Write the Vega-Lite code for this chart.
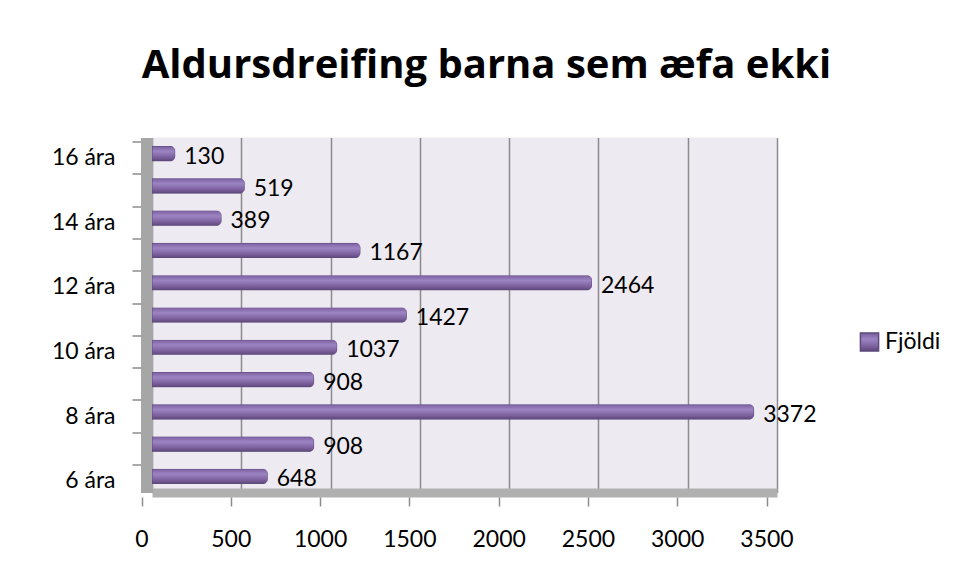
{
  "$schema": "https://vega.github.io/schema/vega-lite/v6.json",
  "autosize": {"type": "none"},
  "width": 625,
  "height": 355,
  "padding": {"left": 152, "top": 137.5, "right": 182, "bottom": 88.5},
  "background": "white",
  "config": {
    "font": "Lato",
    "view": {"fill": "#EDEAF2", "stroke": null}
  },
  "title": {
    "text": "Aldursdreifing barna sem æfa ekki",
    "font": "Open Sans",
    "fontWeight": "bold",
    "fontSize": 40,
    "color": "#000000",
    "anchor": "middle",
    "dx": 22,
    "offset": 52
  },
  "data": {
    "values": [
      {"age": "6 ára", "v": 648, "s": "Fjöldi"},
      {"age": "7 ára", "v": 908, "s": "Fjöldi"},
      {"age": "8 ára", "v": 3372, "s": "Fjöldi"},
      {"age": "9 ára", "v": 908, "s": "Fjöldi"},
      {"age": "10 ára", "v": 1037, "s": "Fjöldi"},
      {"age": "11 ára", "v": 1427, "s": "Fjöldi"},
      {"age": "12 ára", "v": 2464, "s": "Fjöldi"},
      {"age": "13 ára", "v": 1167, "s": "Fjöldi"},
      {"age": "14 ára", "v": 389, "s": "Fjöldi"},
      {"age": "15 ára", "v": 519, "s": "Fjöldi"},
      {"age": "16 ára", "v": 130, "s": "Fjöldi"}
    ]
  },
  "encoding": {
    "y": {
      "field": "age",
      "type": "nominal",
      "sort": ["16 ára", "15 ára", "14 ára", "13 ára", "12 ára", "11 ára", "10 ára", "9 ára", "8 ára", "7 ára", "6 ára"],
      "scale": {"paddingInner": 0, "paddingOuter": 0},
      "axis": {
        "title": null,
        "bandPosition": 0,
        "tickOffset": 4.2,
        "labelDy": 16.5,
        "labelExpr": "indexof(['6 ára','8 ára','10 ára','12 ára','14 ára','16 ára'], datum.value) >= 0 ? datum.label : ''",
        "labelFontSize": 23,
        "labelColor": "#000000",
        "labelPadding": 17,
        "tickSize": 14.5,
        "tickColor": "#8C8C8C",
        "tickWidth": 1.5,
        "domainColor": "#A6A6A6",
        "domainWidth": 12,
        "offset": 5.5,
        "grid": false
      }
    }
  },
  "layer": [
    {
      "mark": {
        "type": "bar",
        "height": {"band": 0.47},
        "cornerRadiusEnd": 5,
        "strokeWidth": 1,
        "color": {
          "gradient": "linear",
          "x1": 0, "y1": 0, "x2": 0, "y2": 1,
          "stops": [
            {"offset": 0, "color": "#7A5E9E"},
            {"offset": 0.35, "color": "#9C84C2"},
            {"offset": 0.7, "color": "#8064A2"},
            {"offset": 1, "color": "#5C4778"}
          ]
        }
      },
      "encoding": {
        "x": {
          "field": "v",
          "type": "quantitative",
          "scale": {"domain": [0, 3500], "nice": false},
          "axis": {
            "orient": "bottom",
            "title": null,
            "values": [0, 500, 1000, 1500, 2000, 2500, 3000, 3500],
            "labels": false,
            "ticks": false,
            "grid": true,
            "gridColor": "#8C8C8C",
            "gridWidth": 1.5,
            "domain": true,
            "domainColor": "#B0B0B0",
            "domainWidth": 9
          }
        },
        "stroke": {
          "field": "s",
          "type": "nominal",
          "scale": {"range": ["#5E4A7C"]},
          "legend": {
            "title": null,
            "orient": "none",
            "legendX": 706,
            "legendY": 193,
            "padding": 0,
            "symbolType": "square",
            "symbolSize": 330,
            "symbolFillColor": "#8064A2",
            "symbolStrokeColor": "#5E4A7C",
            "symbolStrokeWidth": 1.5,
            "labelFontSize": 23,
            "labelColor": "#000000",
            "labelOffset": 4
          }
        }
      }
    },
    {
      "mark": {
        "type": "text",
        "align": "left",
        "baseline": "middle",
        "dx": 9,
        "dy": 3,
        "fontSize": 23,
        "color": "#000000"
      },
      "encoding": {
        "x": {
          "field": "v",
          "type": "quantitative",
          "scale": {"domain": [0, 3500], "nice": false},
          "axis": {
            "orient": "bottom",
            "title": null,
            "values": [0, 500, 1000, 1500, 2000, 2500, 3000, 3500],
            "format": "d",
            "grid": false,
            "domain": false,
            "offset": 4.5,
            "tickOffset": -10.5,
            "ticks": true,
            "tickSize": 9,
            "tickColor": "#8C8C8C",
            "tickWidth": 1.5,
            "labelFontSize": 23,
            "labelColor": "#000000",
            "labelPadding": 22,
            "labelFlush": false
          }
        },
        "text": {"field": "v", "type": "quantitative"}
      }
    }
  ],
  "resolve": {"axis": {"x": "independent"}}
}
